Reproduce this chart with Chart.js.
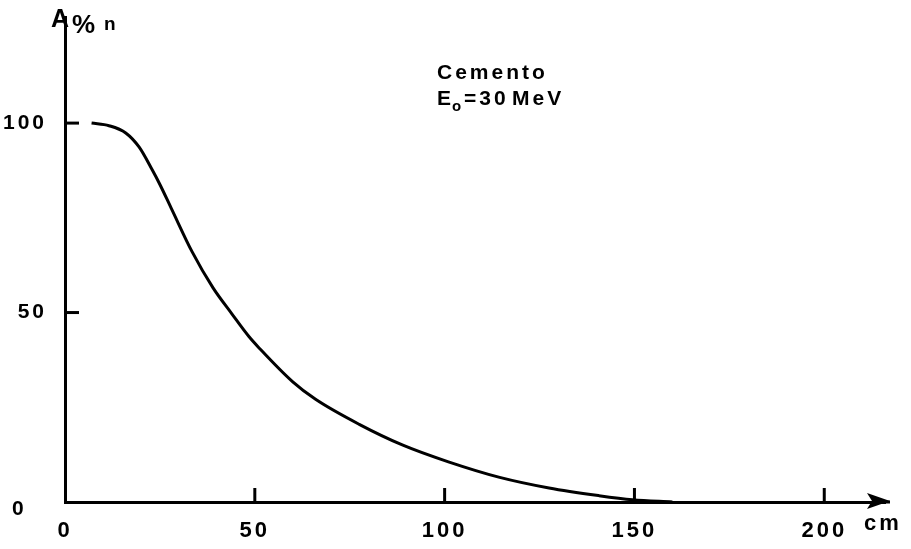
<!DOCTYPE html>
<html>
<head>
<meta charset="utf-8">
<script src="https://cdn.jsdelivr.net/npm/chart.js@4.4.1/dist/chart.umd.min.js"></script>
<style>
  html, body { margin: 0; padding: 0; background: #fff; }
  #wrap { width: 911px; height: 549px; }
</style>
</head>
<body>
<div id="wrap"><canvas id="grafico"></canvas></div>
<script>
// Dati (profondità in cm, attività in %)
const profondita = [7, 11.6, 16, 19.5, 23, 25, 28, 33.5, 39, 44, 48.5, 51, 60, 66, 77.5, 89, 101, 114.5, 127.5, 140.5, 149.5, 160];
const attivita = [100, 99.3, 97.4, 93.7, 87.6, 83.8, 77.5, 66, 56.5, 49.6, 43.6, 40.8, 31.7, 27.1, 20.5, 15, 10.6, 6.5, 3.7, 1.7, 0.6, 0];
const xTicks = [0, 50, 100, 150, 200];
const yTicks = [0, 50, 100];
const materiale = 'Cemento';

const INK = '#000';
const FONT = 'Liberation Sans, Arial, sans-serif';

// Tacche interne, frecce e scritte
const decorazioni = {
  id: 'decorazioni',
  beforeDraw(chart) {
    chart.ctx.letterSpacing = '3px';
  },
  afterDraw(chart) {
    const ctx = chart.ctx;
    const x = chart.scales.x, y = chart.scales.y;
    const x0 = x.getPixelForValue(0), y0 = y.getPixelForValue(0);
    ctx.save();
    ctx.strokeStyle = INK;
    ctx.fillStyle = INK;
    ctx.lineWidth = 3;
    ctx.lineCap = 'butt';

    // tacche asse x
    xTicks.slice(1).forEach(v => {
      const px = x.getPixelForValue(v);
      ctx.beginPath();
      ctx.moveTo(px, y0);
      ctx.lineTo(px, y0 - 14);
      ctx.stroke();
    });
    // tacche asse y
    yTicks.slice(1).forEach(v => {
      const py = y.getPixelForValue(v);
      ctx.beginPath();
      ctx.moveTo(x0, py);
      ctx.lineTo(x0 + 14, py);
      ctx.stroke();
    });

    // freccia asse x
    const xEnd = chart.chartArea.right;
    ctx.beginPath();
    ctx.moveTo(xEnd - 2, y0);
    ctx.lineTo(xEnd + 5, y0);
    ctx.stroke();
    ctx.beginPath();
    ctx.moveTo(xEnd + 5, y0 - 1);
    ctx.lineTo(xEnd - 18, y0 - 9);
    ctx.lineTo(xEnd - 13, y0 - 1);
    ctx.lineTo(xEnd - 18, y0 + 7);
    ctx.closePath();
    ctx.fill();

    // "A" a forma di freccia sull'asse y e unità
    ctx.letterSpacing = '0px';
    ctx.textBaseline = 'alphabetic';
    ctx.textAlign = 'center';
    ctx.font = 'bold 25px ' + FONT;
    ctx.fillText('A', x0 - 5, 27);
    ctx.textAlign = 'left';
    ctx.font = 'bold 26px ' + FONT;
    ctx.fillText('%', 72, 33);
    ctx.font = 'bold 19px ' + FONT;
    ctx.fillText('n', 104, 30);

    // zero dell'asse y
    ctx.font = 'bold 21px ' + FONT;
    ctx.fillText('0', 12, 515);

    // unità asse x
    ctx.letterSpacing = '3px';
    ctx.font = 'bold 22px ' + FONT;
    ctx.fillText('cm', 864, 530);

    // didascalia
    ctx.font = 'bold 21px ' + FONT;
    ctx.fillText(materiale, 437, 79);
    ctx.fillText('E', 437, 105);
    ctx.font = 'bold 15px ' + FONT;
    ctx.fillText('o', 452, 111);
    ctx.font = 'bold 21px ' + FONT;
    ctx.fillText('=30', 464, 105);
    ctx.fillText('MeV', 512, 105);
    ctx.restore();
  }
};

const curvaData = {
  datasets: [{
    label: materiale,
    data: profondita.map((d, i) => ({ x: d, y: attivita[i] })),
    borderColor: INK,
    borderWidth: 3,
    pointRadius: 0,
    fill: false,
    cubicInterpolationMode: 'monotone'
  }]
};

const curvaConfig = {
  type: 'line',
  data: curvaData,
  options: {
    responsive: true,
    maintainAspectRatio: false,
    animation: false,
    layout: { padding: { top: 17, right: 26 } },
    plugins: { legend: { display: false }, tooltip: { enabled: false } },
    scales: {
      x: {
        type: 'linear',
        min: 0,
        max: 216,
        afterBuildTicks: s => { s.ticks = xTicks.map(v => ({ value: v })); },
        afterFit: s => { s.height = 47; s.paddingLeft = 0; s.paddingRight = 0; },
        border: { display: true, color: INK, width: 3 },
        grid: { display: true, drawOnChartArea: false, drawTicks: false },
        ticks: {
          color: INK,
          padding: 16,
          maxRotation: 0,
          autoSkip: false,
          font: { family: FONT, size: 22, weight: 'bold' }
        }
      },
      y: {
        min: 0,
        max: 128,
        afterBuildTicks: s => { s.ticks = yTicks.map(v => ({ value: v })); },
        afterFit: s => { s.width = 65; s.paddingTop = 0; s.paddingBottom = 0; },
        border: { display: true, color: INK, width: 3 },
        grid: { display: true, drawOnChartArea: false, drawTicks: false },
        ticks: {
          color: INK,
          padding: 18,
          callback: v => (v === 0 ? '' : v),
          font: { family: FONT, size: 21, weight: 'bold' }
        }
      }
    }
  },
  plugins: [decorazioni]
};

new Chart(document.getElementById('grafico'), curvaConfig);
</script>
</body>
</html>
